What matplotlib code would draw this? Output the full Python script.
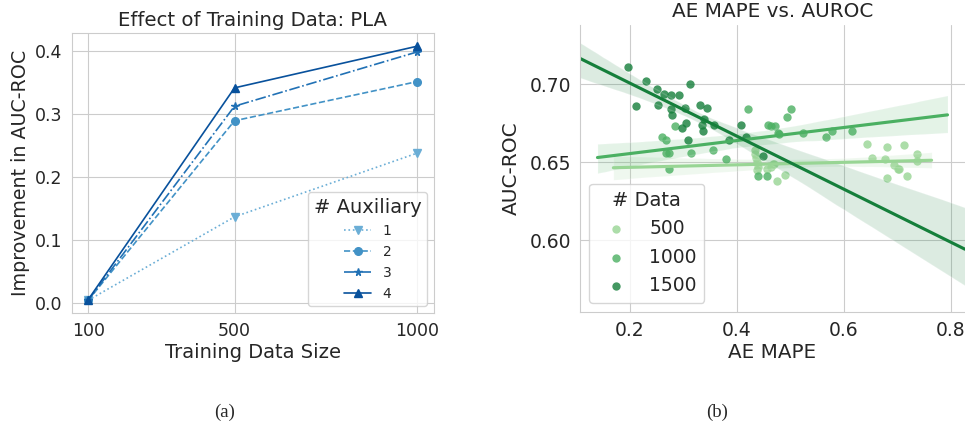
import matplotlib
matplotlib.use("Agg")
import matplotlib.pyplot as plt
import numpy as np
import seaborn as sns

# (a) improvement in AUC-ROC vs training data size
train_sizes = [100, 500, 1000]
aux_labels = ["1", "2", "3", "4"]
aux_values = [
    [0.005, 0.137, 0.238],
    [0.005, 0.289, 0.351],
    [0.005, 0.312, 0.398],
    [0.006, 0.341, 0.407],
]

# (b) AE MAPE vs AUROC, one group per training data size
data_labels = ["500", "1000", "1500"]
mape_500 = [0.433, 0.434, 0.436, 0.437, 0.439, 0.437, 0.456, 0.463, 0.468, 0.470, 0.475, 0.489,
            0.643, 0.653, 0.677, 0.680, 0.681, 0.694, 0.701, 0.703, 0.713, 0.719, 0.736, 0.737]
auc_500 = [0.658, 0.655, 0.653, 0.650, 0.647, 0.645, 0.646, 0.647, 0.649, 0.649, 0.638, 0.642,
           0.662, 0.653, 0.652, 0.660, 0.640, 0.648, 0.646, 0.646, 0.661, 0.641, 0.655, 0.651]
mape_1000 = [0.260, 0.267, 0.268, 0.273, 0.273, 0.284, 0.314, 0.356, 0.379, 0.421, 0.439, 0.457,
             0.458, 0.463, 0.471, 0.477, 0.479, 0.494, 0.501, 0.524, 0.567, 0.577, 0.616]
auc_1000 = [0.666, 0.664, 0.656, 0.656, 0.646, 0.673, 0.656, 0.658, 0.652, 0.684, 0.641, 0.641,
            0.674, 0.673, 0.673, 0.669, 0.668, 0.679, 0.684, 0.669, 0.666, 0.670, 0.670]
mape_1500 = [0.196, 0.230, 0.251, 0.263, 0.211, 0.253, 0.312, 0.277, 0.292, 0.277, 0.279, 0.303, 0.331,
             0.344, 0.298, 0.304, 0.334, 0.338, 0.337, 0.358, 0.309, 0.386, 0.408, 0.417, 0.449]
auc_1500 = [0.711, 0.702, 0.697, 0.694, 0.686, 0.687, 0.700, 0.693, 0.693, 0.684, 0.680, 0.685, 0.687,
            0.685, 0.672, 0.675, 0.674, 0.678, 0.670, 0.674, 0.664, 0.664, 0.674, 0.666, 0.654]

sns.set_style("whitegrid")
plt.rcParams['font.family'] = ['DejaVu Sans']

fig = plt.figure(figsize=(9.65, 4.23), dpi=100)

# ---- (a) ----
ax1 = fig.add_axes([0.0743, 0.260, 0.3754, 0.661])
blues = ['#6baed6', '#4292c6', '#2171b5', '#08519c']
styles = [':', '--', '-.', '-']
markers = ['v', 'o', '*', '^']
for vals, lab, c, ls, m in zip(aux_values, aux_labels, blues, styles, markers):
    ax1.plot(train_sizes, vals, color=c, linestyle=ls, marker=m, lw=1.2, ms=5.5, label=lab)
ax1.set_xticks(train_sizes)
ax1.set_yticks([0.0, 0.1, 0.2, 0.3, 0.4])
ax1.tick_params(labelsize=12.5, pad=3)
ax1.set_title("Effect of Training Data: PLA", fontsize=14.2, pad=5)
ax1.set_xlabel("Training Data Size", fontsize=14, labelpad=2)
ax1.set_ylabel("Improvement in AUC-ROC", fontsize=13.7, labelpad=4)
ax1.legend(title="# Auxiliary", loc="lower right", fontsize=10, title_fontsize=14)

# ---- (b) ----
ax2 = fig.add_axes([0.601, 0.2624, 0.399, 0.6785])
greens = ['#98d594', '#4bb062', '#157f3b']
groups = [(mape_500, auc_500), (mape_1000, auc_1000), (mape_1500, auc_1500)]
all_x = np.concatenate([g[0] for g in groups])
all_y = np.concatenate([g[1] for g in groups])
# set the x range from all data first, like lmplot does
ax2.scatter(all_x, all_y).remove()
for i, ((xs, ys), c, lab) in enumerate(zip(groups, greens, data_labels)):
    sns.regplot(x=np.array(xs), y=np.array(ys), ax=ax2, color=c, label=lab,
                truncate=False, seed=0, scatter_kws={'linewidths': 0})
    if i < len(groups) - 1:
        ax2.lines[-1].sticky_edges.x.clear()
sns.despine(ax=ax2)
ax2.set_ylim(0.554, 0.738)
ax2.set_xticks([0.2, 0.4, 0.6, 0.8])
ax2.set_yticks([0.60, 0.65, 0.70])
ax2.set_yticklabels(["0.60", "0.65", "0.70"])
ax2.tick_params(labelsize=13.5, pad=3)
ax2.set_title("AE MAPE vs. AUROC", fontsize=14.4)
ax2.set_xlabel("AE MAPE", fontsize=14.3, labelpad=2)
ax2.set_ylabel("AUC-ROC", fontsize=14.5, labelpad=6)
ax2.legend(title="# Data", loc="lower left", fontsize=13.5, title_fontsize=14)

fig.text(0.233, 0.015, "(a)", fontsize=13.5, family=['Liberation Serif', 'DejaVu Serif'], ha='center')
fig.text(0.743, 0.015, "(b)", fontsize=13.5, family=['Liberation Serif', 'DejaVu Serif'], ha='center')

fig.savefig("out.png", dpi=100)
